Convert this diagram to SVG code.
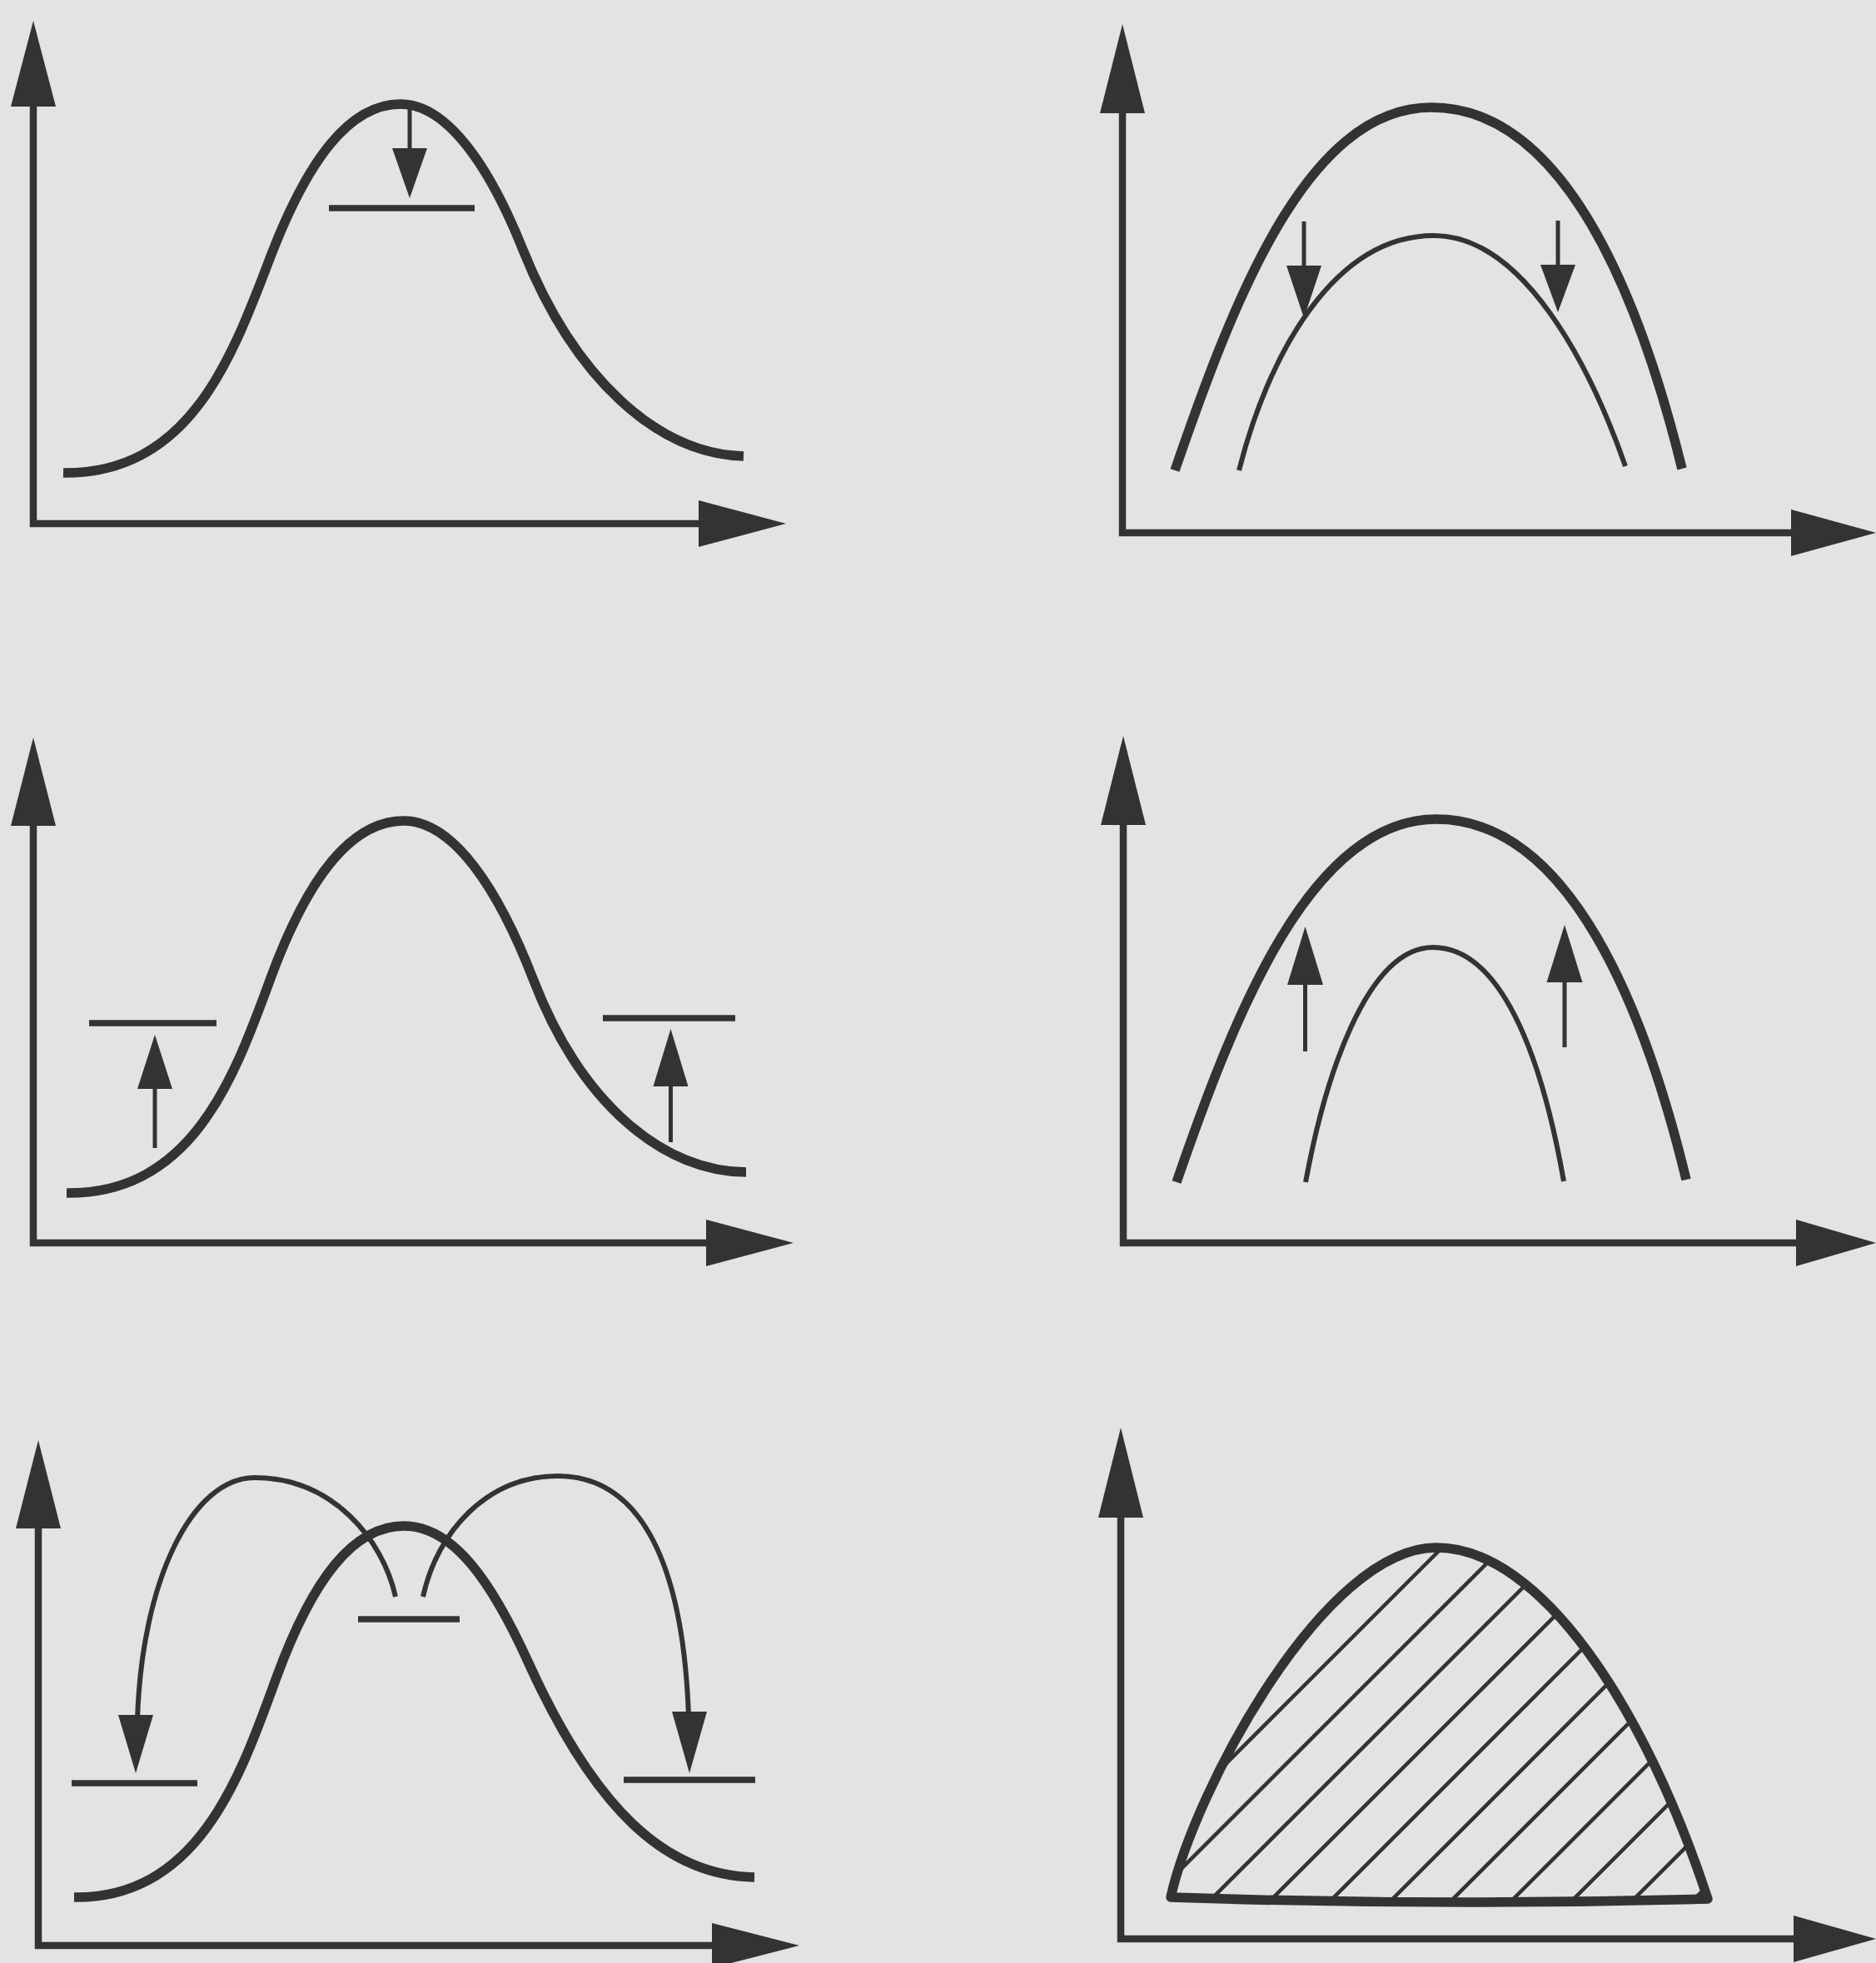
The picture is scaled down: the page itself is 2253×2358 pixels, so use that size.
<svg xmlns="http://www.w3.org/2000/svg" width="2253" height="2358" viewBox="0 0 2253 2358">
<style>
.ax{fill:none;stroke:#333;stroke-width:8.5;stroke-linejoin:miter}
.ah{fill:#333;stroke:none}
.thick{fill:none;stroke:#333;stroke-width:11.5;stroke-linecap:butt}
.thin{fill:none;stroke:#333;stroke-width:6}
.bar{stroke:#333;stroke-width:7.5}
.shaft{stroke:#333;stroke-width:5}
.hatch{stroke:#333;stroke-width:4.5}
</style>
<defs>
<clipPath id="shapeClip"><path d="M1406,2279 C1435,2150 1590,1859 1725,1859 C1850,1859 1975,2050 2051,2281 Q1728,2290 1406,2279 Z"/></clipPath>
</defs>
<rect width="2253" height="2358" fill="#e3e3e3"/>

<g id="panel1">
<path class="ax" d="M40,120 L40,629 L848,629"/>
<polygon class="ah" points="40,25 13,128 67,128"/>
<polygon class="ah" points="944,629 839,601 839,657"/>
<path class="thick" d="M76,568 C230,570 280,425 325,308 C370,191 420,125 481,125 C535,125 586,195 628,300 C690,455 790,545 893,548"/>
<line class="shaft" x1="492" y1="130" x2="492" y2="182"/>
<polygon class="ah" points="492,238 471,178 513,178"/>
<line class="bar" x1="395" y1="250" x2="570" y2="250"/>
</g>

<g id="panel2">
<path class="ax" d="M1348,130 L1348,640 L2160,640"/>
<polygon class="ah" points="1348,29 1321,136 1375,136"/>
<polygon class="ah" points="2253,640 2151,612 2151,668"/>
<path class="thick" d="M1411,565 C1481,362 1569,129 1719,129 C1880,129 1970,360 2020,563"/>
<path class="thin" d="M1488,565 C1522,430 1600,283 1722,283 C1830,283 1910,440 1952,560"/>
<line class="shaft" x1="1566" y1="266" x2="1566" y2="322"/>
<polygon class="ah" points="1566,382 1545,319 1587,319"/>
<line class="shaft" x1="1871" y1="265" x2="1871" y2="321"/>
<polygon class="ah" points="1871,375 1850,318 1892,318"/>
</g>

<g id="panel3">
<path class="ax" d="M40,985 L40,1493 L852,1493"/>
<polygon class="ah" points="40,886 13,992 67,992"/>
<polygon class="ah" points="953,1493 848,1465 848,1521"/>
<path class="thick" d="M80,1433 C232,1435 282,1292 325,1175 C370,1053 422,986 485,986 C545,986 599,1069 641,1178 C700,1330 800,1408 896,1408"/>
<line class="bar" x1="107" y1="1229" x2="260" y2="1229"/>
<line class="bar" x1="724" y1="1223" x2="883" y2="1223"/>
<line class="shaft" x1="186" y1="1379" x2="186" y2="1304"/>
<polygon class="ah" points="186,1243 165,1308 207,1308"/>
<line class="shaft" x1="805.5" y1="1372" x2="805.5" y2="1301"/>
<polygon class="ah" points="805.5,1236 784.5,1305 826.5,1305"/>
</g>

<g id="panel4">
<path class="ax" d="M1349,985 L1349,1493 L2160,1493"/>
<polygon class="ah" points="1349,884 1322,991 1376,991"/>
<polygon class="ah" points="2253,1493 2157,1465 2157,1521"/>
<path class="thick" d="M1413,1420 C1483,1217 1574,984 1725,984 C1886,984 1976,1215 2025,1417"/>
<path class="thin" d="M1568,1420 C1590,1300 1640,1138 1721,1138 C1800,1138 1850,1260 1878,1419"/>
<line class="shaft" x1="1567.5" y1="1263" x2="1567.5" y2="1179"/>
<polygon class="ah" points="1567.5,1113 1546,1183 1589,1183"/>
<line class="shaft" x1="1879" y1="1258" x2="1879" y2="1176"/>
<polygon class="ah" points="1879,1111 1857.5,1180 1900.5,1180"/>
</g>

<g id="panel5">
<path class="ax" d="M46,1830 L46,2337 L858,2337"/>
<polygon class="ah" points="46,1730 19,1836 73,1836"/>
<polygon class="ah" points="960,2337 855,2310 855,2364"/>
<path class="thick" d="M89,2279 C240,2281 290,2130 332,2015 C376,1895 425,1833 485,1833 C545,1833 591,1901 635,1998 C715,2174 800,2253 906,2255"/>
<line class="bar" x1="430" y1="1945" x2="552" y2="1945"/>
<line class="bar" x1="86" y1="2142" x2="237" y2="2142"/>
<line class="bar" x1="749" y1="2138" x2="907" y2="2138"/>
<path class="thin" d="M475,1918 C460,1850 400,1775 306,1775 C230,1775 170,1900 165,2066"/>
<polygon class="ah" points="163,2130 142,2060 184,2060"/>
<path class="thin" d="M508,1918 C525,1840 585,1773 670,1773 C760,1773 820,1860 827,2062"/>
<polygon class="ah" points="828,2130 807,2056 849,2056"/>
</g>

<g id="panel6">
<path class="ax" d="M1346,1815 L1346,2329 L2160,2329"/>
<polygon class="ah" points="1346,1715 1319,1823 1373,1823"/>
<polygon class="ah" points="2253,2329 2154,2301 2154,2357"/>
<g clip-path="url(#shapeClip)">
<path class="hatch" d="M1291,2300 L1891,1700 M1363.5,2300 L1963.5,1700 M1436,2300 L2036,1700 M1508.5,2300 L2108.5,1700 M1581,2300 L2181,1700 M1653.5,2300 L2253.5,1700 M1726,2300 L2326,1700 M1798.5,2300 L2398.5,1700 M1871,2300 L2471,1700 M1943.5,2300 L2543.5,1700 M2016,2300 L2616,1700"/>
</g>
<path class="thick" d="M1406,2279 C1435,2150 1590,1859 1725,1859 C1850,1859 1975,2050 2051,2281 Q1728,2290 1406,2279 Z" stroke-linejoin="round"/>
</g>
</svg>
